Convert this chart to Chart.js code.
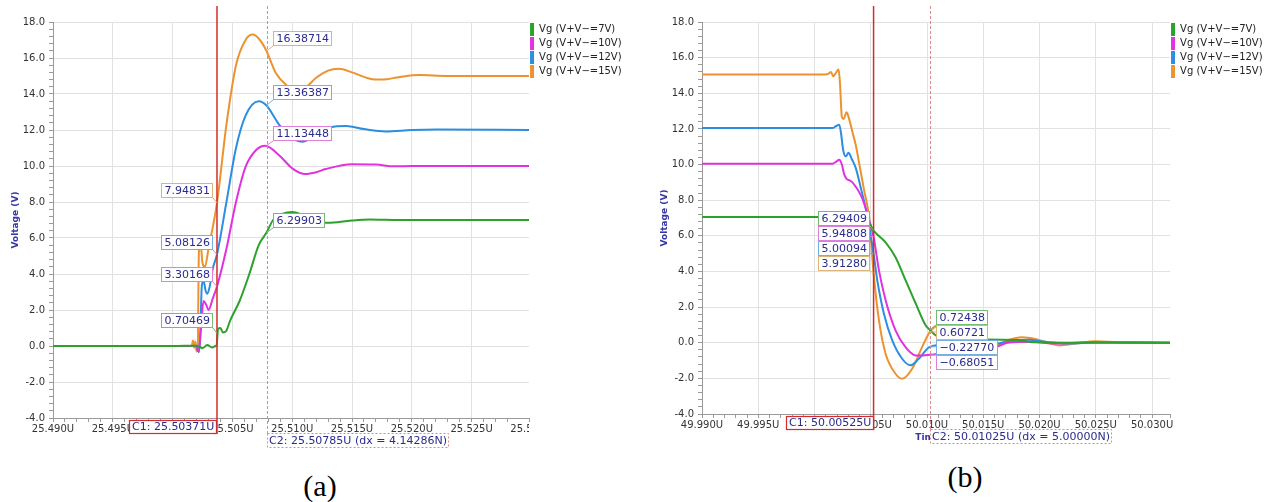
<!DOCTYPE html>
<html>
<head>
<meta charset="utf-8">
<script src="https://cdn.jsdelivr.net/npm/chart.js@4/dist/chart.umd.min.js"></script>
<style>
  body { margin: 0; background: #fff; width: 1284px; height: 502px; position: relative; overflow: hidden; }
  .wrap { position: absolute; top: 0; }
  .cap { position: absolute; width: 100px; text-align: center; font-family: "Liberation Serif", serif; font-size: 30px; color: #000; }
</style>
</head>
<body>
<div class="wrap" style="left:0; width:640px; height:460px;"><canvas id="chartA"></canvas></div>
<div class="wrap" style="left:649px; width:635px; height:456px;"><canvas id="chartB"></canvas></div>
<div class="cap" style="left:270px; top:469px;">(a)</div>
<div class="cap" style="left:915px; top:460px;">(b)</div>
<script>
// series names / colours (7V, 10V, 12V, 15V)
var seriesLabels = ['Vg (V+V\u2212=7V)', 'Vg (V+V\u2212=10V)', 'Vg (V+V\u2212=12V)', 'Vg (V+V\u2212=15V)'];
var lineColors = ['#2ca22c', '#e032e0', '#2c8ee0', '#ec922e'];
var boxColors = ['#74bb74', '#dc80dc', '#78aee2', '#dcb47a'];

// (a) turn-on, time in us
var tA7 = [25.490, 25.500, 25.5020, 25.5025, 25.5029, 25.5033, 25.5036, 25.50368, 25.5038, 25.5040, 25.5042, 25.5045, 25.5048, 25.5056, 25.5064, 25.5072, 25.50785, 25.5084, 25.5092, 25.5100, 25.5108, 25.5117, 25.5125, 25.5138, 25.5150, 25.5165, 25.5190, 25.5298];
var vA7 = [0, 0, 0.02, -0.12, 0.05, -0.08, 0.0, 0.05, 0.95, 1.0, 0.75, 0.85, 1.4, 2.5, 3.97, 5.6, 6.3, 7.0, 7.35, 7.45, 7.3, 7.0, 6.85, 6.88, 6.97, 7.03, 7.0, 7.0];
var tA10 = [25.490, 25.5020, 25.5021, 25.5022, 25.5024, 25.50258, 25.5028, 25.5030, 25.50336, 25.50371, 25.5045, 25.5053, 25.5061, 25.5070, 25.50775, 25.5089, 25.5100, 25.5111, 25.5120, 25.5128, 25.5150, 25.5170, 25.5185, 25.5200, 25.5298];
var vA10 = [0, 0, -0.25, -0.3, 1.2, 2.5, 2.3, 2.0, 2.65, 3.3, 5.4, 8.0, 9.95, 10.9, 11.13, 10.6, 9.87, 9.55, 9.65, 9.83, 10.1, 10.08, 9.98, 10.0, 10.0];
var tA12 = [25.490, 25.5020, 25.5021, 25.5022, 25.5023, 25.50245, 25.5026, 25.50275, 25.5029, 25.5031, 25.50336, 25.50371, 25.5045, 25.5053, 25.5061, 25.5072, 25.50785, 25.5089, 25.5100, 25.5109, 25.5120, 25.5132, 25.5145, 25.5160, 25.5178, 25.5200, 25.5220, 25.5298];
var vA12 = [0, 0, -0.2, -0.35, 0.5, 3.4, 3.6, 3.1, 2.9, 3.3, 4.3, 5.08, 8.0, 11.0, 12.8, 13.6, 13.36, 12.3, 11.55, 11.35, 11.75, 12.15, 12.22, 12.05, 11.92, 12.0, 12.03, 12.0];
var tA15 = [25.490, 25.5016, 25.5017, 25.5018, 25.5019, 25.5020, 25.5021, 25.5022, 25.50235, 25.5025, 25.5027, 25.5030, 25.50371, 25.5045, 25.5053, 25.5061, 25.5067, 25.5073, 25.50785, 25.5086, 25.5095, 25.5103, 25.5110, 25.5120, 25.5130, 25.5139, 25.5150, 25.5165, 25.5175, 25.5190, 25.5206, 25.5230, 25.5298];
var vA15 = [0, 0, 0.3, -0.1, 0.25, -0.3, -0.2, 5.3, 5.6, 4.6, 4.4, 5.4, 7.95, 12.3, 15.6, 17.0, 17.3, 17.0, 16.39, 15.2, 14.5, 14.2, 14.3, 14.9, 15.3, 15.4, 15.2, 14.85, 14.8, 14.95, 15.05, 15.0, 15.0];

// (b) turn-off
var tB7 = [49.990, 50.0042, 50.0046, 50.0049, 50.00525, 50.0058, 50.0063, 50.0072, 50.0081, 50.0090, 50.0099, 50.01025, 50.0107, 50.0113, 50.0125, 50.0150, 50.0180, 50.0195, 50.0230, 50.0316];
var vB7 = [7.05, 7.05, 6.95, 6.7, 6.29, 5.95, 5.65, 4.8, 3.5, 2.19, 0.95, 0.72, 0.45, 0.22, 0.15, 0.18, 0.15, 0.02, 0.0, 0.0];
var tB10 = [49.990, 50.0016, 50.0019, 50.0022, 50.00243, 50.00264, 50.00285, 50.00308, 50.00337, 50.00367, 50.00403, 50.00441, 50.00485, 50.00525, 50.00573, 50.00632, 50.0072, 50.00809, 50.00897, 50.0096, 50.01025, 50.0120, 50.0140, 50.01575, 50.0172, 50.0193, 50.0215, 50.0240, 50.0316];
var vB10 = [10.05, 10.05, 10.15, 10.27, 10.0, 9.45, 9.2, 9.12, 9.0, 8.75, 8.38, 7.82, 6.9, 5.95, 4.06, 2.38, 0.69, -0.25, -0.71, -0.72, -0.68, -0.55, -0.45, -0.34, 0.0, 0.06, -0.05, 0.02, 0.0];
var tB12 = [49.990, 50.0016, 50.0019, 50.0022, 50.00237, 50.00255, 50.00279, 50.00302, 50.00332, 50.00367, 50.00411, 50.00456, 50.00525, 50.00558, 50.00617, 50.00691, 50.00779, 50.00853, 50.00927, 50.01025, 50.0120, 50.0140, 50.01575, 50.0175, 50.0190, 50.0205, 50.0226, 50.0250, 50.0316];
var vB12 = [12.05, 12.05, 12.15, 12.24, 11.7, 10.8, 10.46, 10.66, 10.3, 9.8, 8.7, 7.5, 5.0, 3.5, 1.63, 0.13, -0.9, -1.27, -0.9, -0.23, -0.1, -0.15, -0.1, 0.1, 0.17, 0.05, -0.05, 0.03, 0.0];
var tB15 = [49.990, 50.0010, 50.00125, 50.00146, 50.00167, 50.0019, 50.00214, 50.00226, 50.00243, 50.00258, 50.00285, 50.00308, 50.00337, 50.00367, 50.00403, 50.00441, 50.00485, 50.00525, 50.00573, 50.00632, 50.0072, 50.00779, 50.00868, 50.00956, 50.01025, 50.0110, 50.0122, 50.0135, 50.0150, 50.0160, 50.0172, 50.0184, 50.0197, 50.0210, 50.0218, 50.0232, 50.0250, 50.0270, 50.0316];
var vB15 = [15.05, 15.05, 15.1, 15.2, 14.95, 15.15, 15.33, 14.6, 12.67, 12.55, 12.93, 12.55, 11.83, 11.08, 9.86, 8.55, 7.05, 3.91, 1.25, -0.62, -1.74, -2.02, -1.46, -0.25, 0.61, 0.95, 0.8, 0.3, -0.1, -0.15, 0.15, 0.31, 0.2, -0.05, -0.15, -0.05, 0.08, 0.02, 0.0];

// axes
var xRangeA = [25.490, 25.5298];
var xRangeB = [49.990, 50.0316];
var yRange = [-4, 18];

// cursors and their readouts (order 7V, 10V, 12V, 15V)
var cursorsA = [25.50371, 25.50785];
var dxA = '4.14286N';
var c1ValuesA = [0.70469, 3.30168, 5.08126, 7.94831];
var c2ValuesA = [6.29903, 11.13448, 13.36387, 16.38714];
var cursorsB = [50.00525, 50.01025];
var dxB = '5.00000N';
var c1ValuesB = [6.29409, 5.94808, 5.00094, 3.91280];
var c2ValuesB = [0.72438, -0.68051, -0.22770, 0.60721];

Chart.defaults.font.family = '"DejaVu Sans", sans-serif';

function pairs(ts, vs) {
  return ts.map(function (t, i) { return {x: t, y: vs[i]}; });
}

function fmtVal(v) {
  return (v < 0 ? '\u2212' : '') + Math.abs(v).toFixed(5);
}

function isMajorX(v) {
  var k = v * 1000;
  return Math.abs(k - Math.round(k)) < 1e-4 && Math.round(k) % 5 === 0;
}
function isMajorY(v) { return Math.abs(v / 2 - Math.round(v / 2)) < 1e-6; }

var cursorPlugin = {
  id: 'cursors',
  afterDraw: function (chart, args, opts) {
    var ctx = chart.ctx, a = chart.chartArea;
    var xs = chart.scales.x, ys = chart.scales.y;
    ctx.save();

    // next major tick label, cut at the plot edge
    var nextMajor = Math.ceil(xs.max / 0.005 - 1e-9) * 0.005;
    ctx.save();
    ctx.beginPath();
    ctx.rect(a.left, a.bottom, a.right - a.left, 40);
    ctx.clip();
    ctx.font = '10px "DejaVu Sans"';
    ctx.fillStyle = '#333';
    ctx.textAlign = 'center';
    ctx.textBaseline = 'middle';
    ctx.fillText(nextMajor.toFixed(3) + 'U', xs.getPixelForValue(nextMajor), a.bottom + 11);
    ctx.restore();

    var x1 = xs.getPixelForValue(opts.cursors[0]);
    var x2 = xs.getPixelForValue(opts.cursors[1]);

    // C2 dashed line
    ctx.strokeStyle = '#d98a8a';
    ctx.lineWidth = 1;
    ctx.setLineDash([3, 2]);
    ctx.beginPath();
    ctx.moveTo(Math.round(x2) + 0.5, a.top - 16);
    ctx.lineTo(Math.round(x2) + 0.5, a.bottom + 15);
    ctx.stroke();
    ctx.setLineDash([]);

    // C1 solid line
    ctx.strokeStyle = '#d42c2c';
    ctx.lineWidth = 1.5;
    ctx.beginPath();
    ctx.moveTo(x1, a.top - 16);
    ctx.lineTo(x1, a.bottom + 16);
    ctx.stroke();

    ctx.font = '11px "DejaVu Sans"';
    ctx.textBaseline = 'middle';
    ctx.textAlign = 'left';

    function stack(vals, cx, side) {
      var items = vals.map(function (v, i) { return {v: v, i: i}; })
        .sort(function (p, q) { return q.v - p.v; });
      var prev = -Infinity;
      items.forEach(function (it) {
        var s = fmtVal(it.v);
        var py = ys.getPixelForValue(it.v);
        var w = Math.round(ctx.measureText(s).width) + 7, h = 15;
        var top = Math.round(Math.max(py - 5 - h, prev));
        prev = top + h;
        var left = Math.round(side === 'left' ? cx - 4 - w : cx + 6);
        var ex = side === 'left' ? left + w : left;
        var ey = Math.min(Math.max(py, top), top + h);
        ctx.strokeStyle = boxColors[it.i];
        ctx.lineWidth = 1;
        ctx.beginPath();
        ctx.moveTo(ex, ey);
        ctx.lineTo(cx, py);
        ctx.stroke();
        ctx.fillStyle = '#fff';
        ctx.fillRect(left, top, w, h);
        ctx.strokeRect(left + 0.5, top + 0.5, w - 1, h - 1);
        ctx.fillStyle = '#2b2b8e';
        ctx.fillText(s, left + 3.5, top + h / 2 + 0.5);
      });
    }
    stack(opts.c1, x1, 'left');
    stack(opts.c2, x2, 'right');

    // cursor time boxes under the axis
    var t1 = 'C1: ' + opts.cursors[0].toFixed(5) + 'U';
    var w1 = Math.round(ctx.measureText(t1).width) + 6;
    var b1x = Math.round(x1) - w1, b1y = Math.round(a.bottom) + 2;
    ctx.fillStyle = '#fff';
    ctx.fillRect(b1x, b1y, w1, 14);
    ctx.strokeStyle = '#d42c2c';
    ctx.lineWidth = 1.2;
    ctx.strokeRect(b1x + 0.5, b1y + 0.5, w1 - 1, 13);
    ctx.fillStyle = '#2b2b8e';
    ctx.fillText(t1, b1x + 3, b1y + 7.5);

    var t2 = 'C2: ' + opts.cursors[1].toFixed(5) + 'U (dx = ' + opts.dx + ')';
    var w2 = Math.round(ctx.measureText(t2).width) + 4;
    var b2x = Math.round(x2), b2y = Math.round(a.bottom) + 15;
    ctx.fillStyle = '#fff';
    ctx.fillRect(b2x, b2y, w2, 15);
    ctx.strokeStyle = '#d98a8a';
    ctx.lineWidth = 1;
    ctx.setLineDash([2, 2]);
    ctx.strokeRect(b2x + 0.5, b2y + 0.5, w2 - 1, 14);
    ctx.setLineDash([]);
    ctx.fillStyle = '#2b2b8e';
    ctx.fillText(t2, b2x + 2, b2y + 8);

    ctx.restore();
  }
};

function makeChart(id, series, xRange, cursors, c1, c2, dx, rightPad) {
  var datasets = series.map(function (s, i) {
    return {
      label: seriesLabels[i],
      data: pairs(s[0], s[1]),
      borderColor: lineColors[i],
      backgroundColor: lineColors[i],
      borderWidth: 2,
      pointRadius: 0,
      cubicInterpolationMode: 'monotone'
    };
  });
  return new Chart(document.getElementById(id), {
    type: 'line',
    data: {datasets: datasets},
    options: {
      responsive: true,
      maintainAspectRatio: false,
      animation: false,
      layout: {padding: {left: 4, top: 22, right: rightPad, bottom: 0}},
      plugins: {
        tooltip: {enabled: false},
        legend: {
          position: 'right',
          align: 'start',
          labels: {
            boxWidth: 4,
            boxHeight: 13,
            padding: 1,
            color: '#222',
            font: {size: 10},
            generateLabels: function (ch) {
              return Chart.defaults.plugins.legend.labels.generateLabels(ch).map(function (l) {
                l.lineWidth = 0;
                return l;
              });
            }
          }
        },
        cursors: {cursors: cursors, c1: c1, c2: c2, dx: dx}
      },
      scales: {
        x: {
          type: 'linear',
          min: xRange[0],
          max: xRange[1],
          afterFit: function (s) { s.height = 42; },
          border: {color: '#9a9a9a'},
          grid: {
            color: function (c) { return isMajorX(c.tick.value) ? '#e2e2e2' : 'rgba(0,0,0,0)'; },
            tickColor: '#9a9a9a',
            tickLength: 4
          },
          ticks: {
            stepSize: 0.001,
            autoSkip: false,
            maxRotation: 0,
            minRotation: 0,
            padding: 1,
            color: '#333',
            font: {size: 10},
            callback: function (v) { return isMajorX(v) ? v.toFixed(3) + 'U' : ''; }
          },
          title: {
            display: true,
            text: 'Time (s)',
            color: '#3636a6',
            font: {size: 9, weight: 'bold'},
            padding: {top: 0, bottom: 13}
          }
        },
        y: {
          min: yRange[0],
          max: yRange[1],
          afterFit: function (s) { s.width = 49; },
          border: {color: '#9a9a9a'},
          grid: {
            color: function (c) { return isMajorY(c.tick.value) ? '#e2e2e2' : 'rgba(0,0,0,0)'; },
            tickColor: '#9a9a9a',
            tickLength: 4
          },
          ticks: {
            stepSize: 0.4,
            autoSkip: false,
            padding: 4,
            color: '#333',
            font: {size: 10},
            callback: function (v) { return isMajorY(v) ? v.toFixed(1) : ''; }
          },
          title: {
            display: true,
            text: 'Voltage (V)',
            color: '#3636a6',
            font: {size: 9, weight: 'bold'},
            padding: {top: 6, bottom: 0}
          }
        }
      }
    },
    plugins: [cursorPlugin]
  });
}

makeChart('chartA', [[tA7, vA7], [tA10, vA10], [tA12, vA12], [tA15, vA15]],
  xRangeA, cursorsA, c1ValuesA, c2ValuesA, dxA, 8.4);
makeChart('chartB', [[tB7, vB7], [tB10, vB10], [tB12, vB12], [tB15, vB15]],
  xRangeB, cursorsB, c1ValuesB, c2ValuesB, dxB, 11.4);
</script>
</body>
</html>
